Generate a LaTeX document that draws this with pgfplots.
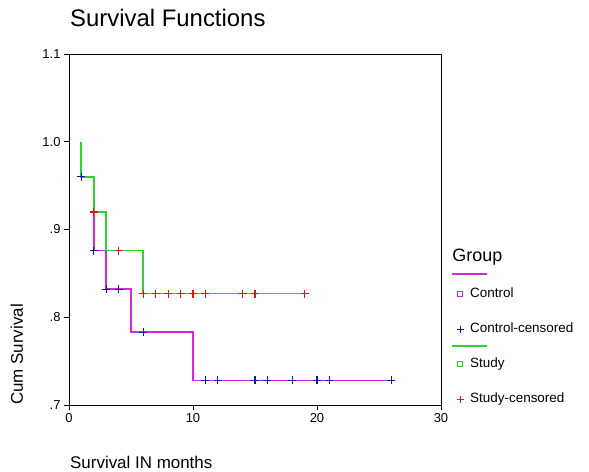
\documentclass[border=0pt]{standalone}
\usepackage{fontspec}
\setmainfont{Liberation Sans}
\usepackage{pgfplots}
\pgfplotsset{compat=1.18}
\definecolor{ctrl}{RGB}{214,40,214}
\definecolor{stud}{RGB}{50,210,50}
\definecolor{censA}{RGB}{20,20,160}
\definecolor{censB}{RGB}{225,20,20}
\begin{document}
\begin{tikzpicture}
\useasboundingbox (-69bp,-67bp) rectangle (520bp,405bp);
\begin{axis}[
  at={(0,0)}, anchor=south west,
  scale only axis, width=372bp, height=351bp,
  xmin=0, xmax=30, ymin=0.7, ymax=1.1,
  xtick={0,10,20,30}, ytick={0.7,0.8,0.9,1.0,1.1},
  xticklabels={0,10,20,30},
  yticklabels={.7,.8,.9,1.0,1.1},
  tick align=outside, xtick pos=bottom, ytick pos=left,
  major tick length=5bp,
  axis line style={line width=0.9bp},
  every tick/.style={black, line width=0.9bp},
  /pgf/number format/assume math mode=true,
  tick label style={font=\fontsize{13}{15}\selectfont},
  title={Survival Functions},
  title style={at={([xshift=1bp,yshift=22bp]axis description cs:0,1)}, anchor=base west, font=\fontsize{24}{28}\selectfont, inner sep=0pt},
  xlabel={Survival IN months},
  xlabel style={at={([xshift=1bp,yshift=-63bp]axis description cs:0,0)}, anchor=base west, font=\fontsize{17}{20}\selectfont, inner sep=0pt},
  ylabel={Cum Survival},
  ylabel style={at={([xshift=-46bp]axis description cs:0,0)}, anchor=base west, rotate=0, font=\fontsize{17}{20}\selectfont, inner sep=0pt},
  legend style={at={(axis description cs:1.0296,0.433)}, anchor=north west, draw=none, fill=none, inner sep=0pt, row sep=23bp,
    nodes={inner sep=0pt, text height=9bp, text depth=3bp, font=\fontsize{13.5}{16}\selectfont},
    /tikz/every even column/.append style={column sep=8bp}},
  legend cell align=left,
]
\addplot[ctrl, line width=1.8bp, forget plot] coordinates {(1,1.0) (1,0.96) (2,0.96) (2,0.876) (3,0.876) (3,0.832) (5,0.832) (5,0.783) (10,0.783) (10,0.728) (26,0.728)};
\addplot[only marks, mark=+, mark size=4bp, censA, mark options={line width=1.1bp}, forget plot] coordinates {(1,0.96) (2,0.876) (3,0.832) (4,0.832) (6,0.783) (11,0.728) (12,0.728) (15,0.728) (16,0.728) (18,0.728) (20,0.728) (21,0.728) (26,0.728)};
\addplot[stud, line width=1.8bp, forget plot] coordinates {(1,1.0) (1,0.96) (2,0.96) (2,0.92) (3,0.92) (3,0.876) (6,0.876) (6,0.827) (19,0.827)};
\addplot[only marks, mark=+, mark size=4bp, censB, mark options={line width=1.1bp}, forget plot] coordinates {(2,0.92) (4,0.876) (6,0.827) (7,0.827) (8,0.827) (9,0.827) (10,0.827) (11,0.827) (14,0.827) (15,0.827) (19,0.827)};

\addlegendimage{legend image code/.code={\path[draw=none,fill=none] (-8bp,-4bp) rectangle (10bp,4bp); \node[overlay, anchor=base west, inner sep=0pt, text=black, font=\fontsize{18}{20}\selectfont] at (-8bp,-2bp) {Group};}}
\addlegendentry{}
\addlegendimage{legend image code/.code={\path[draw=none,fill=none] (-8bp,-4bp) rectangle (10bp,4bp); \draw[overlay, draw=ctrl, line width=1.5bp] (-8bp,20bp) -- (27bp,20bp); \draw[draw=ctrl, fill=none, line width=0.9bp] (-2.5bp,-2.5bp) rectangle (2.5bp,2.5bp);}}
\addlegendentry{Control}
\addlegendimage{legend image code/.code={\path[draw=none,fill=none] (-8bp,-4bp) rectangle (10bp,4bp); \draw[draw=censA, line width=1bp] (-3.5bp,0) -- (3.5bp,0) (0,-3.5bp) -- (0,3.5bp);}}
\addlegendentry{Control-censored}
\addlegendimage{legend image code/.code={\path[draw=none,fill=none] (-8bp,-4bp) rectangle (10bp,4bp); \draw[overlay, draw=stud, line width=1.5bp] (-8bp,18bp) -- (27bp,18bp); \draw[draw=stud, fill=none, line width=0.9bp] (-2.5bp,-2.5bp) rectangle (2.5bp,2.5bp);}}
\addlegendentry{Study}
\addlegendimage{legend image code/.code={\path[draw=none,fill=none] (-8bp,-4bp) rectangle (10bp,4bp); \draw[draw=censB, line width=1bp] (-3.5bp,0) -- (3.5bp,0) (0,-3.5bp) -- (0,3.5bp);}}
\addlegendentry{Study-censored}
\end{axis}
\end{tikzpicture}
\end{document}
